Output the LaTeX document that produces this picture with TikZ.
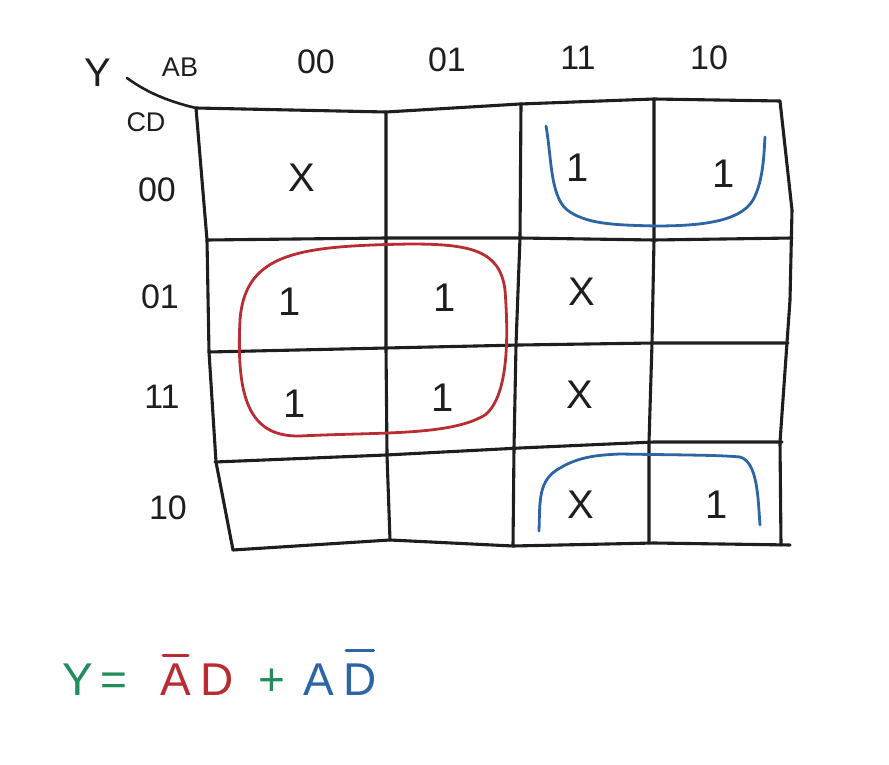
\documentclass[tikz,border=0pt]{standalone}
\usepackage{fontspec}
\setmainfont{Liberation Sans}
\definecolor{ink}{RGB}{30,30,30}
\definecolor{redink}{RGB}{185,45,50}
\definecolor{blueink}{RGB}{45,100,165}
\definecolor{greenink}{RGB}{35,140,90}
\tikzset{
  gridline/.style={draw=ink, line width=3.1pt, line cap=round, line join=round},
  hdr/.style={font=\fontsize{34}{36}\selectfont, text=ink, inner sep=0pt},
  cell/.style={font=\fontsize{40}{42}\selectfont, text=ink, inner sep=0pt},
  loopred/.style={draw=redink, line width=2.8pt, line cap=round},
  loopblue/.style={draw=blueink, line width=2.8pt, line cap=round},
  eq/.style={font=\fontsize{46}{50}\selectfont, inner sep=0pt, anchor=base west},
  eqbar/.style={line width=2.8pt, line cap=round}
}
\begin{document}
\begin{tikzpicture}[x=1pt,y=-1pt]
\useasboundingbox (0,0) rectangle (889,765);
% grid
\draw[gridline] (196,108) -- (386,112) -- (520,104) -- (654,99) -- (780,101);
\draw[gridline] (207,240) -- (386,238) -- (520,238) -- (654,240) -- (792,238);
\draw[gridline] (209,352) -- (386,348) -- (520,345) -- (654,343) -- (788,343);
\draw[gridline] (215,462) -- (386,455) -- (520,448) -- (654,442) -- (782,442);
\draw[gridline] (233,550) -- (390,540) -- (513,546) -- (654,543) -- (790,545);
\draw[gridline] (196,108) -- (207,240) -- (209,352) -- (216,462) -- (233,550);
\draw[gridline] (386,112) -- (386,238) -- (386,348) -- (387,455) -- (390,540);
\draw[gridline] (521,104) -- (520,238) -- (516,345) -- (514,448) -- (513,546);
\draw[gridline] (654,99) -- (654,240) -- (652,343) -- (649,442) -- (649,543);
\draw[gridline] (780,101) -- (792,210) -- (790,300) -- (780,442) -- (781,545);
% corner diagonal
\coordinate (dstart) at (127,78);
\coordinate (corner) at (196,108);
\draw[gridline, line width=2.6pt] (dstart) .. controls (150,95) and (175,103) .. (corner);
% labels
\node[hdr, font=\fontsize{40}{42}\selectfont] (Y) at (98,73) {Y};
\node[hdr, font=\fontsize{27}{29}\selectfont] (AB) at (180,67) {AB};
\node[hdr, font=\fontsize{27}{29}\selectfont] (CD) at (146,122) {CD};
\node[hdr] (c00) at (316,62) {00};
\node[hdr] (c01) at (447,60) {01};
\node[hdr] (c11) at (578,58) {11};
\node[hdr] (c10) at (709,58) {10};
\node[hdr] (r00) at (157,190) {00};
\node[hdr] (r01) at (160,297) {01};
\node[hdr] (r11) at (162,397) {11};
\node[hdr] (r10) at (168,508) {10};
% cells
\node[cell] (x00) at (302,178) {X};
\node[cell] (a1) at (578,168) {1};
\node[cell] (a2) at (724,174) {1};
\node[cell] (b1) at (290,302) {1};
\node[cell] (b2) at (445,298) {1};
\node[cell] (bx) at (582,292) {X};
\node[cell] (c1) at (295,404) {1};
\node[cell] (c2) at (443,398) {1};
\node[cell] (cx) at (580,395) {X};
\node[cell] (dx) at (581,505) {X};
\node[cell] (d1) at (717,505) {1};
% loops
\draw[loopred] (410,244) .. controls (300,246) and (245,252) .. (240,320)
  .. controls (236,400) and (250,437) .. (300,436)
  .. controls (380,432) and (450,436) .. (485,415)
  .. controls (510,395) and (508,330) .. (505,290)
  .. controls (500,250) and (470,244) .. (410,244);
\draw[loopblue] (546,126) .. controls (552,160) and (550,200) .. (570,212)
  .. controls (590,225) and (620,225) .. (655,226)
  .. controls (700,226) and (740,222) .. (753,200)
  .. controls (764,180) and (764,150) .. (765,137);
\draw[loopblue] (539,531) .. controls (540,500) and (538,480) .. (560,468)
  .. controls (580,456) and (600,455) .. (620,454)
  .. controls (680,455) and (720,455) .. (740,457)
  .. controls (758,462) and (758,500) .. (760,525);
% equation
\node[eq, text=greenink] (eqY) at (62,695) {Y};
\node[eq, text=greenink] (eqEq) at (100,695) {=};
\node[eq, text=redink] (eqA1) at (160,695) {A};
\node[eq, text=redink] (eqD1) at (200,695) {D};
\node[eq, text=greenink] (eqP) at (258,695) {+};
\node[eq, text=blueink] (eqA2) at (303,695) {A};
\node[eq, text=blueink] (eqD2) at (343,695) {D};
\draw[eqbar, redink] ([xshift=3pt,yshift=8pt]eqA1.north west) -- ([xshift=-3pt,yshift=8pt]eqA1.north east);
\draw[eqbar, blueink] ([xshift=3pt,yshift=13pt]eqD2.north west) -- ([xshift=-3pt,yshift=13pt]eqD2.north east);
\end{tikzpicture}
\end{document}
